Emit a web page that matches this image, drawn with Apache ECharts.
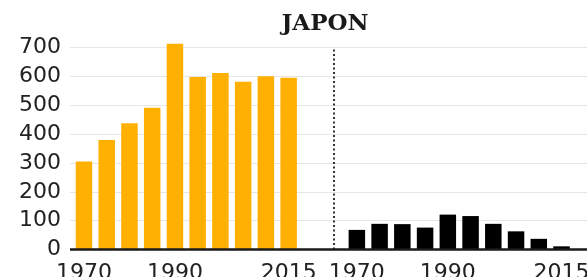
<!DOCTYPE html>
<html>
<head>
<meta charset="utf-8">
<script src="https://cdn.jsdelivr.net/npm/echarts@6/dist/echarts.min.js"></script>
<style>
  html, body { margin: 0; padding: 0; background: #fff; }
  #chart { width: 587px; height: 277px; }
</style>
</head>
<body>
<div id="chart"></div>
<script>
// années (tous les 5 ans)
var years = ['1970', '1975', '1980', '1985', '1990', '1995', '2000', '2005', '2010', '2015'];
var shownYears = ['1970', '1990', '2015'];
// valeurs
var orangeValues = [305, 380, 438, 492, 714, 598, 612, 582, 601, 596];
var blackValues = [68, 89, 88, 76, 121, 116, 89, 63, 37, 11];
var yTicks = [0, 100, 200, 300, 400, 500, 600, 700];

// deux groupes séparés par deux cases vides
var gap = ['', ''];
var categories = years.concat(gap, years);
var orangeData = orangeValues.concat(gap.map(function () { return '-'; }), years.map(function () { return '-'; }));
var blackData = years.map(function () { return '-'; }).concat(gap.map(function () { return '-'; }), blackValues);

var chart = echarts.init(document.getElementById('chart'));
chart.setOption({
  animation: false,
  title: {
    text: 'JAPON',
    left: 320,
    top: 8,
    textAlign: 'center',
    textStyle: { fontFamily: 'DejaVu Serif', fontWeight: 'bold', fontSize: 23, color: '#1a1a1a' }
  },
  grid: [
    // fond : lignes de grille et axe Y
    { left: 70, right: 0, top: 47.7, bottom: 27.5, outerBoundsMode: 'none', containLabel: false },
    // barres
    { left: 72.6, right: 14.1, top: 47.7, bottom: 27.5, outerBoundsMode: 'none', containLabel: false }
  ],
  xAxis: [
    {
      gridIndex: 0, type: 'value', min: 0, max: 1,
      axisLine: { show: false }, axisTick: { show: false }, axisLabel: { show: false }, splitLine: { show: false }
    },
    {
      gridIndex: 1, type: 'category', data: categories,
      axisLine: { show: false }, axisTick: { show: false }, splitLine: { show: false },
      axisLabel: {
        margin: 13,
        fontFamily: 'DejaVu Sans', fontSize: 22, color: '#222',
        interval: function (i, v) { return shownYears.indexOf(v) >= 0; }
      }
    }
  ],
  yAxis: [
    {
      gridIndex: 0, type: 'value', min: 0, max: 700, interval: 100,
      axisLine: { show: false }, axisTick: { show: false },
      axisLabel: {
        margin: 9, fontFamily: 'DejaVu Sans', fontSize: 22, color: '#222',
        formatter: function (v) { return yTicks.indexOf(v) >= 0 ? String(v) : ''; }
      },
      splitLine: { lineStyle: { color: '#e6e6e6', width: 1 } }
    },
    { gridIndex: 1, type: 'value', min: 0, max: 700, show: false }
  ],
  series: [
    {
      name: 'orange', type: 'bar', xAxisIndex: 1, yAxisIndex: 1,
      data: orangeData, barWidth: 16.5, barGap: '-100%', clip: false,
      itemStyle: { color: '#FFB000' }
    },
    {
      name: 'noir', type: 'bar', xAxisIndex: 1, yAxisIndex: 1,
      data: blackData, barWidth: 16.5, barGap: '-100%', clip: false,
      itemStyle: { color: '#000' },
      markLine: {
        silent: true, symbol: 'none', label: { show: false },
        lineStyle: { type: [2, 2.5], color: '#333', width: 2 },
        data: [{ xAxis: 10.5 }]
      }
    },
    {
      // ligne de base épaisse, dessinée par-dessus les barres
      name: 'base', type: 'line', xAxisIndex: 0, yAxisIndex: 0, z: 5,
      data: [[0, 0], [1, 0]], symbol: 'none', silent: true, clip: false,
      lineStyle: { color: '#1a1a1a', width: 2.5 }
    }
  ]
});
</script>
</body>
</html>
